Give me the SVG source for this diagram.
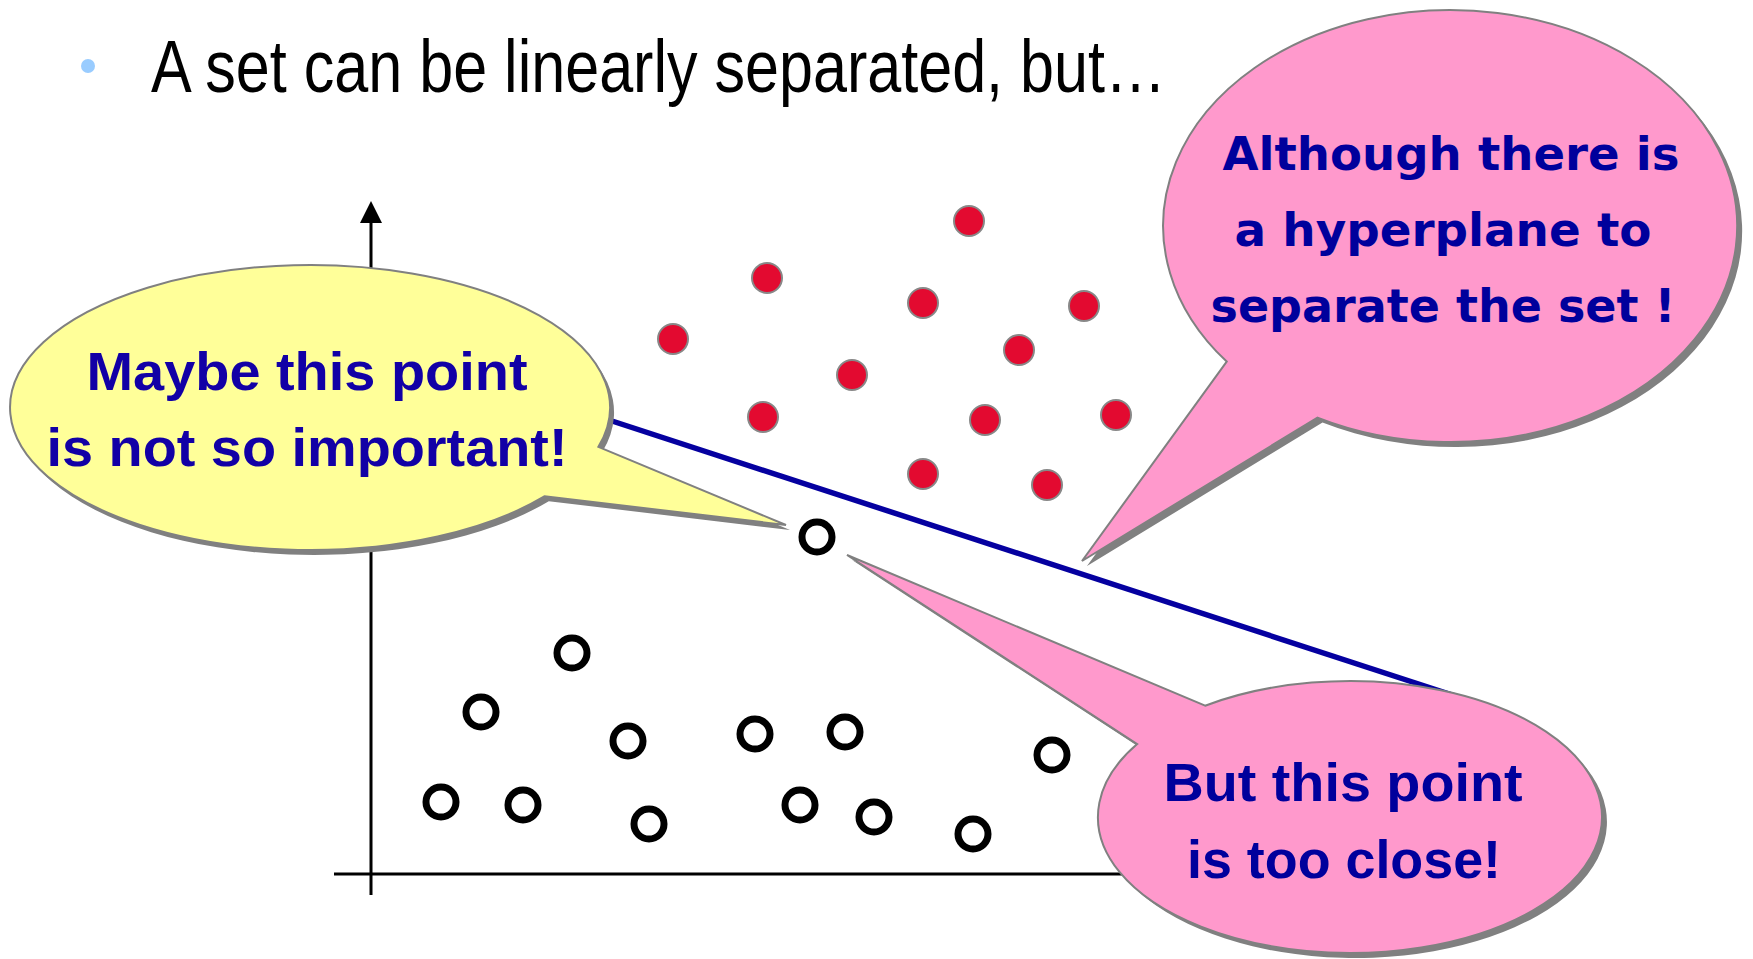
<svg xmlns="http://www.w3.org/2000/svg" width="1753" height="959" viewBox="0 0 1753 959">
<defs>
<style>
.title{font-family:"Liberation Sans Narrow","Liberation Sans",Arial,sans-serif;font-size:75px;fill:#000}
.axis{stroke:#000;stroke-width:3;fill:none}
.plane{stroke:#0500a0;stroke-width:5.5;fill:none}
.red{fill:#e30a30;stroke:#888;stroke-width:2}
.ring{fill:#fff;stroke:#000;stroke-width:7}
.shadow{fill:#808080}
.yellow{fill:#ffff99;stroke:#808080;stroke-width:2}
.pink{fill:#ff99cc;stroke:#808080;stroke-width:2}
.ytxt{font-family:"Liberation Sans",Arial,sans-serif;font-weight:bold;font-size:54px;fill:#1200a6;text-anchor:middle}
.ptxt{font-family:"DejaVu Sans",Verdana,sans-serif;font-weight:bold;font-size:47px;fill:#00009c;text-anchor:middle}
.btxt{font-family:"Liberation Sans",Arial,sans-serif;font-weight:bold;font-size:54px;fill:#00009c;text-anchor:middle}
</style>
</defs>
<rect width="1753" height="959" fill="#fff"/>

<g id="title">
<circle cx="88" cy="66" r="7" fill="#99ccff"/>
<text class="title" x="151" y="92" textLength="1015" lengthAdjust="spacingAndGlyphs">A set can be linearly separated, but…</text>
</g>

<g id="connectors">
<g id="axes">
<line class="axis" x1="371" y1="220" x2="371" y2="895"/>
<polygon points="371,201 360,223 382,223" fill="#000"/>
<line class="axis" x1="334" y1="874" x2="1160" y2="874"/>
</g>
<line id="hyperplane" class="plane" x1="560" y1="404" x2="1480" y2="704"/>
</g>

<g id="class-red">
<circle class="red" cx="969" cy="221" r="15"/>
<circle class="red" cx="767" cy="278" r="15"/>
<circle class="red" cx="923" cy="303" r="15"/>
<circle class="red" cx="1084" cy="306" r="15"/>
<circle class="red" cx="673" cy="339" r="15"/>
<circle class="red" cx="1019" cy="350" r="15"/>
<circle class="red" cx="852" cy="375" r="15"/>
<circle class="red" cx="763" cy="417" r="15"/>
<circle class="red" cx="985" cy="420" r="15"/>
<circle class="red" cx="1116" cy="415" r="15"/>
<circle class="red" cx="923" cy="474" r="15"/>
<circle class="red" cx="1047" cy="485" r="15"/>
</g>

<g id="class-black">
<circle class="ring" cx="572" cy="653" r="15"/>
<circle class="ring" cx="481" cy="712" r="15"/>
<circle class="ring" cx="628" cy="741" r="15"/>
<circle class="ring" cx="755" cy="734" r="15"/>
<circle class="ring" cx="845" cy="732" r="15"/>
<circle class="ring" cx="1052" cy="755" r="15"/>
<circle class="ring" cx="441" cy="802" r="15"/>
<circle class="ring" cx="523" cy="805" r="15"/>
<circle class="ring" cx="649" cy="824" r="15"/>
<circle class="ring" cx="800" cy="805" r="15"/>
<circle class="ring" cx="874" cy="817" r="15"/>
<circle class="ring" cx="973" cy="834" r="15"/>
<circle id="close-point" class="ring" cx="817" cy="537" r="15"/>
</g>

<g id="callout-maybe">
<path class="shadow" transform="translate(4,5)" d="M598.4 446.8 L786 525 L544.8 496.2 A300 142.5 0 1 1 598.4 446.8 Z"/>
<path class="yellow" d="M598.4 446.8 L786 525 L544.8 496.2 A300 142.5 0 1 1 598.4 446.8 Z"/>
<text class="ytxt" x="307" y="390" textLength="441" lengthAdjust="spacingAndGlyphs">Maybe this point</text>
<text class="ytxt" x="307" y="466" textLength="521" lengthAdjust="spacingAndGlyphs">is not so important!</text>
</g>

<g id="callout-although">
<path class="shadow" transform="translate(5,5)" d="M1226.7 361.6 L1082 561 L1317.5 417.6 A287 216 0 1 0 1226.7 361.6 Z"/>
<path class="pink" d="M1226.7 361.6 L1082 561 L1317.5 417.6 A287 216 0 1 0 1226.7 361.6 Z"/>
<text class="ptxt" x="1451" y="170" textLength="457" lengthAdjust="spacingAndGlyphs">Although there is</text>
<text class="ptxt" x="1443" y="246" textLength="417" lengthAdjust="spacingAndGlyphs">a hyperplane to</text>
<text class="ptxt" x="1443" y="322" textLength="465" lengthAdjust="spacingAndGlyphs">separate the set !</text>
</g>

<g id="callout-close">
<path class="shadow" transform="translate(5,5)" d="M1205.1 705.7 L847 555 L1137.2 744.1 A252 136 0 1 0 1205.1 705.7 Z"/>
<path class="pink" d="M1205.1 705.7 L847 555 L1137.2 744.1 A252 136 0 1 0 1205.1 705.7 Z"/>
<text class="btxt" x="1343" y="801" textLength="359" lengthAdjust="spacingAndGlyphs">But this point</text>
<text class="btxt" x="1344" y="878" textLength="314" lengthAdjust="spacingAndGlyphs">is too close!</text>
</g>
</svg>
